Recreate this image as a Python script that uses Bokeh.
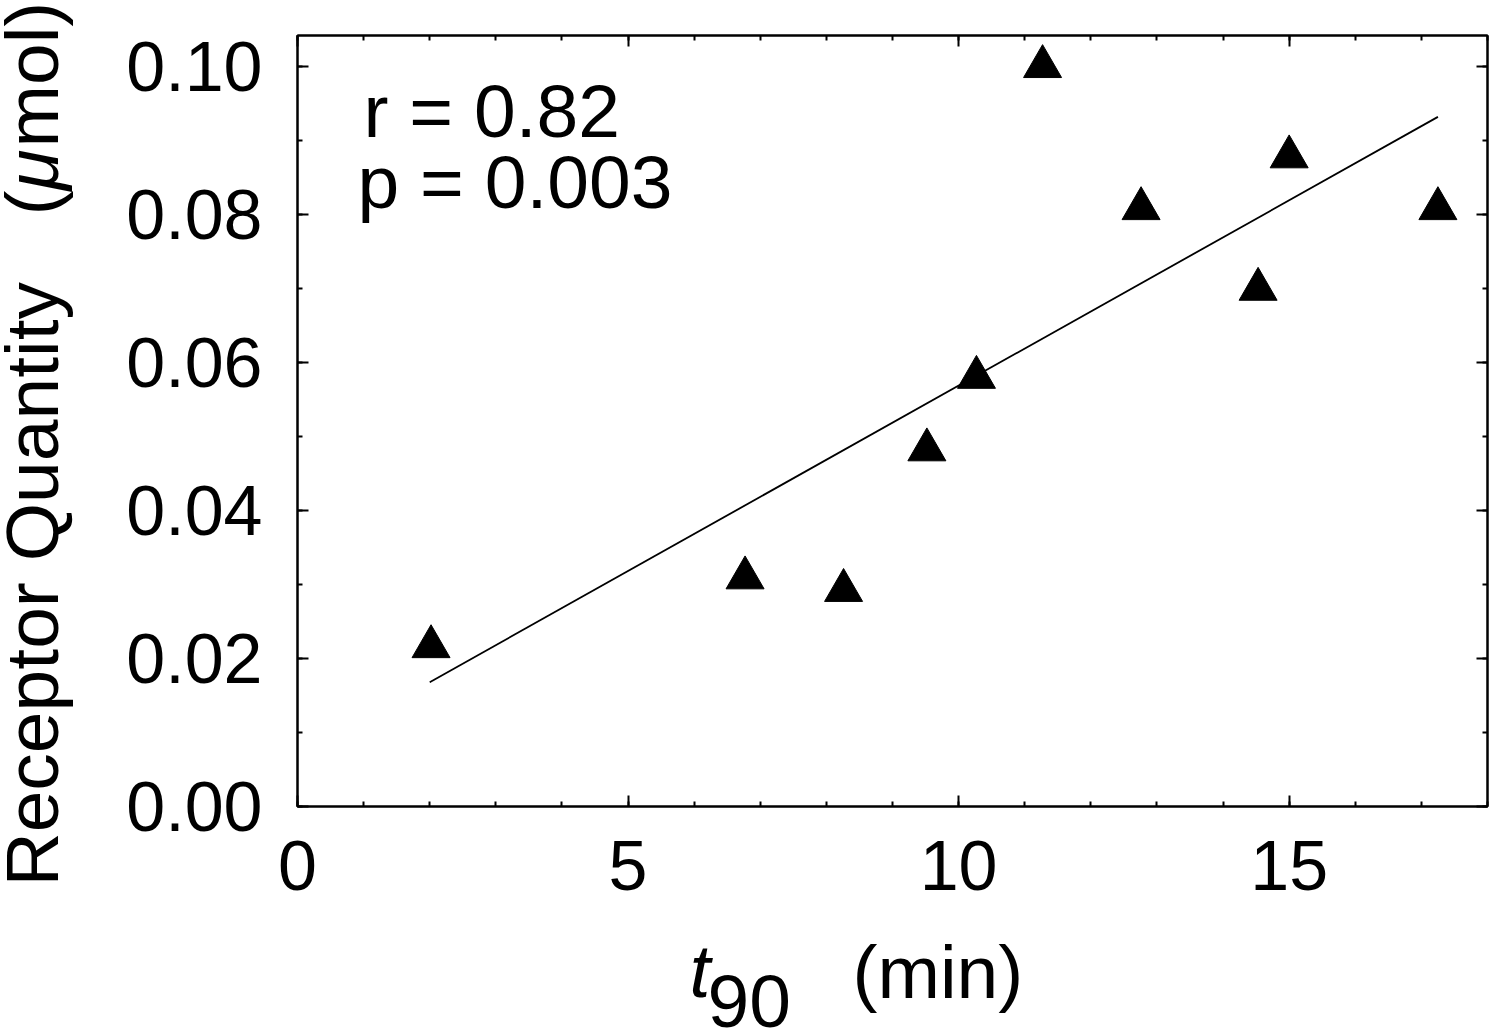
import math
from bokeh.plotting import figure
from bokeh.models import (Range1d, LinearAxis, SingleIntervalTicker, Label,
                          PrintfTickFormatter, ColumnDataSource)
from bokeh.embed import file_html
from bokeh.resources import INLINE

# ---- data ----
t90_min = [2.02, 6.77, 8.26, 9.52, 10.27, 11.27, 12.76, 14.53, 15.00, 17.25]
receptor_umol = [0.0216, 0.0309, 0.0292, 0.0482, 0.0580, 0.1000, 0.0808, 0.0699, 0.0878, 0.0808]
fit_x = [2.00, 17.25]
fit_y = [0.0168, 0.0932]
r_text = "r = 0.82"
p_text = "p = 0.003"

FONT = "Liberation Sans"
X0, X1, Y0, Y1 = 0, 18, 0, 0.1042
FL, FT, FR, FB = 297, 35, 1487, 806          # frame edges in page pixels
W, H = 1496, 2000
DESC = 16                                     # descent of a 75px label (bottom anchor)

def dx(px):
    return X0 + (px - FL) / (FR - FL) * (X1 - X0)

def dy(py):
    return Y0 + (FB - py) / (FB - FT) * (Y1 - Y0)

p = figure(width=W, height=H, output_backend="svg", toolbar_location=None,
           x_range=Range1d(X0, X1), y_range=Range1d(Y0, Y1),
           min_border_left=FL, min_border_top=FT, min_border_right=W - FR,
           min_border_bottom=H - FB, x_axis_location=None, y_axis_location=None)
p.xgrid.visible = False
p.ygrid.visible = False
p.outline_line_color = "black"
p.outline_line_width = 2

def style_axis(ax, show_labels, standoff):
    ax.axis_line_color = "black"
    ax.axis_line_width = 2
    ax.major_tick_in = 11
    ax.major_tick_out = 0
    ax.minor_tick_in = 5
    ax.minor_tick_out = 0
    ax.major_tick_line_color = "black"
    ax.major_tick_line_width = 2
    ax.minor_tick_line_color = "black"
    ax.minor_tick_line_width = 2
    if show_labels:
        ax.major_label_text_font = FONT
        ax.major_label_text_font_size = "70px"
        ax.major_label_text_color = "black"
        ax.major_label_standoff = standoff
    else:
        ax.major_label_text_font_size = "1px"
        ax.major_label_text_color = None
        ax.major_label_standoff = 0

for loc in ["below", "above"]:
    ax = LinearAxis(ticker=SingleIntervalTicker(interval=5, num_minor_ticks=5))
    style_axis(ax, loc == "below", 34)
    p.add_layout(ax, loc)

for loc in ["left", "right"]:
    ax = LinearAxis(ticker=SingleIntervalTicker(interval=0.02, num_minor_ticks=2),
                    formatter=PrintfTickFormatter(format="%.2f"))
    style_axis(ax, loc == "left", 35)
    p.add_layout(ax, loc)

src = ColumnDataSource(dict(x=t90_min, y=receptor_umol))
p.line(fit_x, fit_y, line_color="black", line_width=1.8)
p.scatter("x", "y", source=src, marker="triangle", size=38,
          fill_color="black", line_color="black")

def make_label(px, py, text, italic=False, rotated=False):
    # px, py: start of the text baseline in page pixels
    if rotated:
        ax_, ay_ = px + DESC, py
    else:
        ax_, ay_ = px, py + DESC
    return Label(x=dx(ax_), y=dy(ay_), text=text, text_font=FONT,
                 text_font_size="75px", text_color="black",
                 text_baseline="bottom", text_align="left",
                 text_font_style="italic" if italic else "normal",
                 angle=math.pi / 2 if rotated else 0)

# statistics inside the frame
p.add_layout(make_label(363, 136, r_text))
p.add_layout(make_label(357, 207, p_text))

# x-axis title:  t90  (min)
p.add_layout(make_label(689, 996, "t", italic=True), "below")
p.add_layout(make_label(707, 1010, "90"), "below")
p.add_layout(make_label(852, 997, "(min)"), "below")

# y-axis title:  Receptor Quantity  (µmol)
p.add_layout(make_label(57, 886, "Receptor Quantity", rotated=True), "below")
p.add_layout(make_label(57, 215, "(", rotated=True), "below")
p.add_layout(make_label(57, 190, "\u03bc", italic=True, rotated=True), "below")
p.add_layout(make_label(57, 147, "mol)", rotated=True), "below")

open("out.html", "w").write(file_html(p, INLINE))
